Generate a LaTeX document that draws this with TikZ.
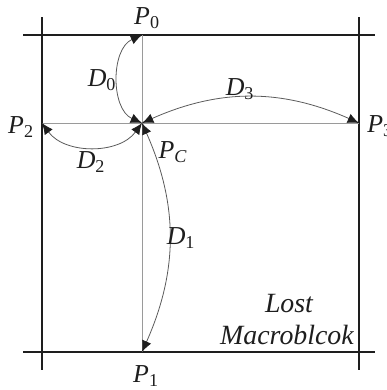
\documentclass[tikz,border=0pt]{standalone}
\usepackage{fontspec}
\setmainfont{Liberation Serif}
\usetikzlibrary{arrows.meta}
\definecolor{ink}{HTML}{1E1E1E}
\definecolor{gridgray}{HTML}{9A9A9A}
\definecolor{curvegray}{HTML}{5A5A5A}
\newcommand{\lbl}[2]{\textit{#1}\textsubscript{#2}}
\begin{document}
\begin{tikzpicture}[x=0.0265cm,y=-0.0265cm,every node/.style={font=\fontsize{19.5}{21}\selectfont,text=ink,inner sep=0pt},border/.style={ink,line width=1.3pt},grid/.style={gridgray,line width=.7pt},curve/.style={curvegray,line width=.6pt,{Latex[length=3mm,width=2.6mm,color=ink]}-{Latex[length=3mm,width=2.6mm,color=ink]}}]
\useasboundingbox (0,0) rectangle (387,390);
% macroblock borders
\draw[border] (23,35)--(375,35);\draw[border] (23,352)--(375,352);
\draw[border] (42,17)--(42,370);\draw[border] (359,17)--(359,370);
% points
\coordinate (PC) at (142,123);\coordinate (P0) at (142,35);\coordinate (P1) at (142,352);
\coordinate (P2) at (42,123);\coordinate (P3) at (359,123);
\draw[grid] (P0)--(P1);\draw[grid] (P2)--(P3);
% distances
\draw[curve] (PC) to[bend left=66] (P0);
\draw[curve] (PC) to[bend left=24] (P1);
\draw[curve] (PC) to[bend left=54] (P2);
\draw[curve] (PC) to[bend left=24] (P3);
% labels
\node (lP0) at (147,18){\lbl{P}{0}};\node (lP1) at (146,376){\lbl{P}{1}};
\node (lP2) at (21,127){\lbl{P}{2}};\node[anchor=west] (lP3) at (367,126){\lbl{P}{3}};
\node (lPC) at (173,152){\lbl{P}{\textit{C}}};
\node (lD0) at (102,80){\lbl{D}{0}};\node (lD1) at (181,238){\lbl{D}{1}};
\node (lD2) at (91,162){\lbl{D}{2}};\node (lD3) at (240,89){\lbl{D}{3}};
\node[font=\fontsize{21}{23}\selectfont\itshape] (lost) at (289,304){Lost};
\node[font=\fontsize{21}{23}\selectfont\itshape,anchor=east] (mb) at (354,335){Macroblcok};
\end{tikzpicture}
\end{document}
